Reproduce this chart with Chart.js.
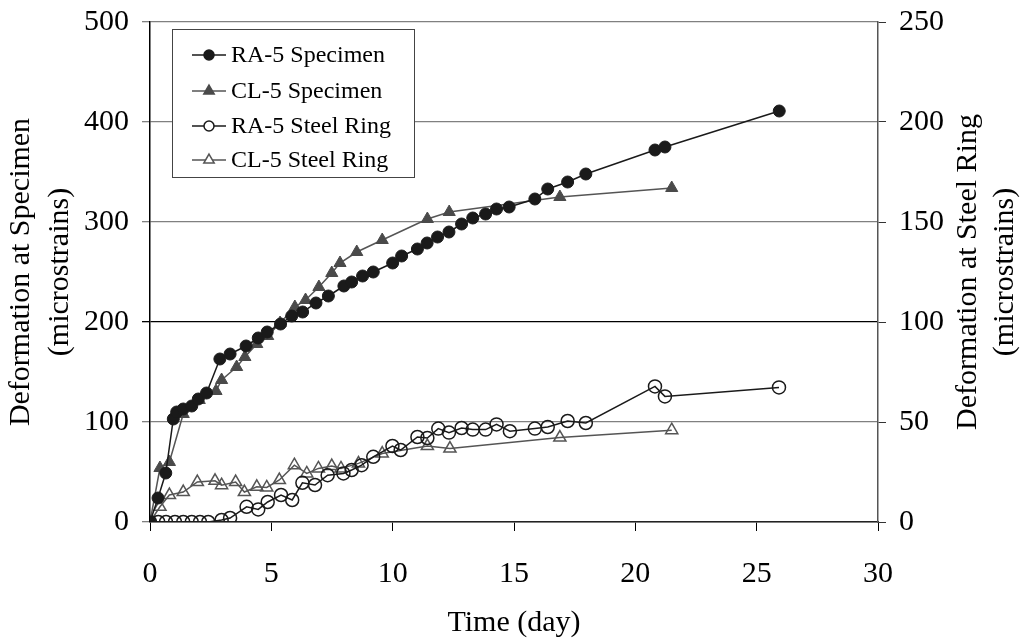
<!DOCTYPE html>
<html>
<head>
<meta charset="utf-8">
<script src="https://cdn.jsdelivr.net/npm/chart.js@4.4.1/dist/chart.umd.min.js"></script>
<style>
  html, body { margin: 0; padding: 0; background: #fff; }
  canvas { display: block; }
</style>
</head>
<body>
<canvas id="deformChart" width="1024" height="639"></canvas>
<script>
// RA-5 specimen (left axis, microstrains)
const raSpecDays = [0, 0.33, 0.65, 0.96, 1.1, 1.37, 1.72, 1.99, 2.33, 2.88, 3.3, 3.96, 4.46, 4.83, 5.38, 5.84, 6.29, 6.84, 7.35, 7.99, 8.31, 8.76, 9.2, 10.0, 10.37, 11.02, 11.42, 11.85, 12.32, 12.84, 13.3, 13.83, 14.28, 14.8, 15.86, 16.39, 17.21, 17.96, 20.81, 21.22, 25.93];
const raSpecVals = [0, 24, 49, 103, 110, 113, 116, 123, 129, 163, 168, 176, 184, 190, 198, 206, 210, 219, 226, 236, 240, 246, 250, 259, 266, 273, 279, 285, 290, 298, 304, 308, 313, 315, 323, 333, 340, 348, 372, 375, 411];

// CL-5 specimen (left axis)
const clSpecDays = [0, 0.41, 0.8, 1.37, 2.03, 2.72, 2.95, 3.57, 3.91, 4.4, 4.85, 5.36, 5.97, 6.41, 6.96, 7.49, 7.83, 8.52, 9.57, 11.43, 12.33, 16.89, 21.5];
const clSpecVals = [0, 54, 60, 108, 122, 131, 142, 155, 165, 178, 186, 199, 215, 222, 235, 249, 259, 270, 282, 303, 310, 325, 334];

// RA-5 steel ring (right axis)
const raRingDays = [0, 0.34, 0.66, 1.03, 1.37, 1.72, 2.06, 2.4, 2.95, 3.3, 3.98, 4.46, 4.85, 5.4, 5.86, 6.28, 6.8, 7.32, 7.97, 8.31, 8.72, 9.2, 9.99, 10.33, 11.02, 11.43, 11.88, 12.32, 12.84, 13.3, 13.83, 14.28, 14.83, 15.86, 16.39, 17.21, 17.96, 20.81, 21.22, 25.92];
const raRingVals = [0, 0, 0, 0, 0, 0, 0, 0, 1, 2, 7.6, 6.3, 10, 13.5, 11, 19.6, 18.5, 23.4, 24.3, 26, 28.4, 32.6, 38, 36, 42.5, 42, 46.7, 44.7, 47, 46.2, 46.2, 48.8, 45.4, 46.7, 47.5, 50.5, 49.5, 67.8, 62.8, 67.3];

// CL-5 steel ring (right axis)
const clRingDays = [0, 0.41, 0.8, 1.37, 1.95, 2.68, 2.95, 3.53, 3.89, 4.4, 4.81, 5.33, 5.95, 6.46, 6.94, 7.49, 7.87, 8.59, 9.57, 11.43, 12.36, 16.89, 21.5];
const clRingVals = [0, 7.6, 13.5, 15, 20, 20.6, 18.4, 20, 15, 17.6, 17.3, 21, 28.4, 24.3, 26.8, 28, 26.8, 29.3, 34.2, 38, 36.7, 42.2, 45.9];

const seriesLabels = ['RA-5 Specimen', 'CL-5 Specimen', 'RA-5 Steel Ring', 'CL-5 Steel Ring'];
const xTicks = [0, 5, 10, 15, 20, 25, 30];
const rightTitle = ['Deformation at Steel Ring', '(microstrains)'];

function toPoints(days, vals) {
  return days.map((d, i) => ({ x: d, y: vals[i] }));
}

const DARK = '#1a1a1a';
const GRAY = '#555555';
const SERIF = '"Liberation Serif", "Times New Roman", serif';

// legend drawn inside the plot, Excel style
const innerLegend = {
  id: 'innerLegend',
  afterDraw(chart) {
    const ctx = chart.ctx;
    const box = { x: 172, y: 29, w: 242, h: 148 };
    ctx.save();
    ctx.fillStyle = '#fff';
    ctx.fillRect(box.x, box.y, box.w, box.h);
    ctx.strokeStyle = '#444';
    ctx.lineWidth = 1;
    ctx.strokeRect(box.x + 0.5, box.y + 0.5, box.w, box.h);
    const rows = [55, 91, 126, 160];
    chart.data.datasets.forEach((ds, i) => {
      const y = rows[i];
      ctx.strokeStyle = ds.borderColor;
      ctx.lineWidth = 1.5;
      ctx.beginPath();
      ctx.moveTo(192, y);
      ctx.lineTo(226, y);
      ctx.stroke();
      ctx.fillStyle = ds.pointBackgroundColor === 'transparent' ? '#fff' : ds.pointBackgroundColor;
      ctx.strokeStyle = ds.pointBorderColor;
      Chart.helpers.drawPoint(ctx, {
        pointStyle: ds.pointStyle,
        radius: ds.pointStyle === 'triangle' ? 6 : 5,
        rotation: 0,
        borderWidth: 1.5
      }, 209, y);
      ctx.fillStyle = '#000';
      ctx.font = '24px ' + SERIF;
      ctx.textAlign = 'left';
      ctx.textBaseline = 'middle';
      ctx.fillText(ds.label, 231, y + 1);
    });
    ctx.restore();
  }
};

// right axis title reads bottom-to-top like the left one
const rightAxisTitle = {
  id: 'rightAxisTitle',
  afterDraw(chart) {
    const ctx = chart.ctx;
    const area = chart.chartArea;
    const cy = (area.top + area.bottom) / 2;
    const xs = [968, 1005];
    ctx.save();
    ctx.fillStyle = '#000';
    ctx.font = '30px ' + SERIF;
    ctx.textAlign = 'center';
    ctx.textBaseline = 'middle';
    rightTitle.forEach((line, i) => {
      ctx.save();
      ctx.translate(xs[i], cy);
      ctx.rotate(-Math.PI / 2);
      ctx.fillText(line, 0, 0);
      ctx.restore();
    });
    ctx.restore();
  }
};

Chart.defaults.font.family = SERIF;
Chart.defaults.color = '#000';

// keep the plot area fixed regardless of tick label overhang
function fixVertical(width) {
  return (scale) => {
    scale.width = width;
    scale.paddingTop = 0;
    scale.paddingBottom = 0;
  };
}

const ctx = document.getElementById('deformChart').getContext('2d');
new Chart(ctx, {
  type: 'scatter',
  data: {
    datasets: [
      {
        label: seriesLabels[0],
        data: toPoints(raSpecDays, raSpecVals),
        yAxisID: 'y',
        showLine: true,
        borderColor: DARK,
        borderWidth: 1.5,
        pointStyle: 'circle',
        pointRadius: 6,
        pointBackgroundColor: DARK,
        pointBorderColor: DARK,
        pointBorderWidth: 1
      },
      {
        label: seriesLabels[1],
        data: toPoints(clSpecDays, clSpecVals),
        yAxisID: 'y',
        showLine: true,
        borderColor: GRAY,
        borderWidth: 1.5,
        pointStyle: 'triangle',
        pointRadius: 7,
        pointBackgroundColor: '#4a4a4a',
        pointBorderColor: '#4a4a4a',
        pointBorderWidth: 1
      },
      {
        label: seriesLabels[2],
        data: toPoints(raRingDays, raRingVals),
        yAxisID: 'y2',
        showLine: true,
        borderColor: DARK,
        borderWidth: 1.5,
        pointStyle: 'circle',
        pointRadius: 6.5,
        pointBackgroundColor: 'transparent',
        pointBorderColor: DARK,
        pointBorderWidth: 1.5
      },
      {
        label: seriesLabels[3],
        data: toPoints(clRingDays, clRingVals),
        yAxisID: 'y2',
        showLine: true,
        borderColor: GRAY,
        borderWidth: 1.5,
        pointStyle: 'triangle',
        pointRadius: 7,
        pointBackgroundColor: 'transparent',
        pointBorderColor: GRAY,
        pointBorderWidth: 1.5
      }
    ]
  },
  options: {
    responsive: false,
    animation: false,
    layout: { padding: { top: 22, left: 0, right: 0, bottom: 0 } },
    plugins: {
      legend: { display: false },
      tooltip: { enabled: false }
    },
    scales: {
      x: {
        type: 'linear',
        min: 0,
        max: 30,
        afterBuildTicks: (scale) => { scale.ticks = xTicks.map(v => ({ value: v })); },
        afterFit: (scale) => {
          scale.height = 117;
          scale.paddingLeft = 0;
          scale.paddingRight = 0;
        },
        ticks: { font: { size: 30 }, padding: 25, maxRotation: 0 },
        grid: { drawOnChartArea: false, tickLength: 9, color: '#000' },
        border: { color: '#222', width: 1.5 },
        title: {
          display: true,
          text: 'Time (day)',
          font: { size: 30 },
          padding: { top: 0, bottom: -2 }
        }
      },
      y: {
        position: 'left',
        min: 0,
        max: 500,
        ticks: { stepSize: 100, font: { size: 30 }, padding: 13 },
        afterFit: fixVertical(150),
        grid: {
          tickLength: 8,
          color: (c) => (c.tick && c.tick.value === 200 ? '#000' : '#808080'),
          lineWidth: 1.3
        },
        border: { color: '#000', width: 1.5 },
        title: {
          display: true,
          text: ['Deformation at Specimen', '(microstrains)'],
          font: { size: 30, lineHeight: 1.3 },
          padding: { top: 2, bottom: 0 }
        }
      },
      y2: {
        position: 'right',
        min: 0,
        max: 250,
        ticks: { stepSize: 50, font: { size: 30 }, padding: 13 },
        afterFit: fixVertical(146),
        grid: { drawOnChartArea: false, tickLength: 8, color: '#333' },
        border: { color: '#555', width: 1.5 },
        title: { display: false }
      }
    }
  },
  plugins: [innerLegend, rightAxisTitle]
});
</script>
</body>
</html>
